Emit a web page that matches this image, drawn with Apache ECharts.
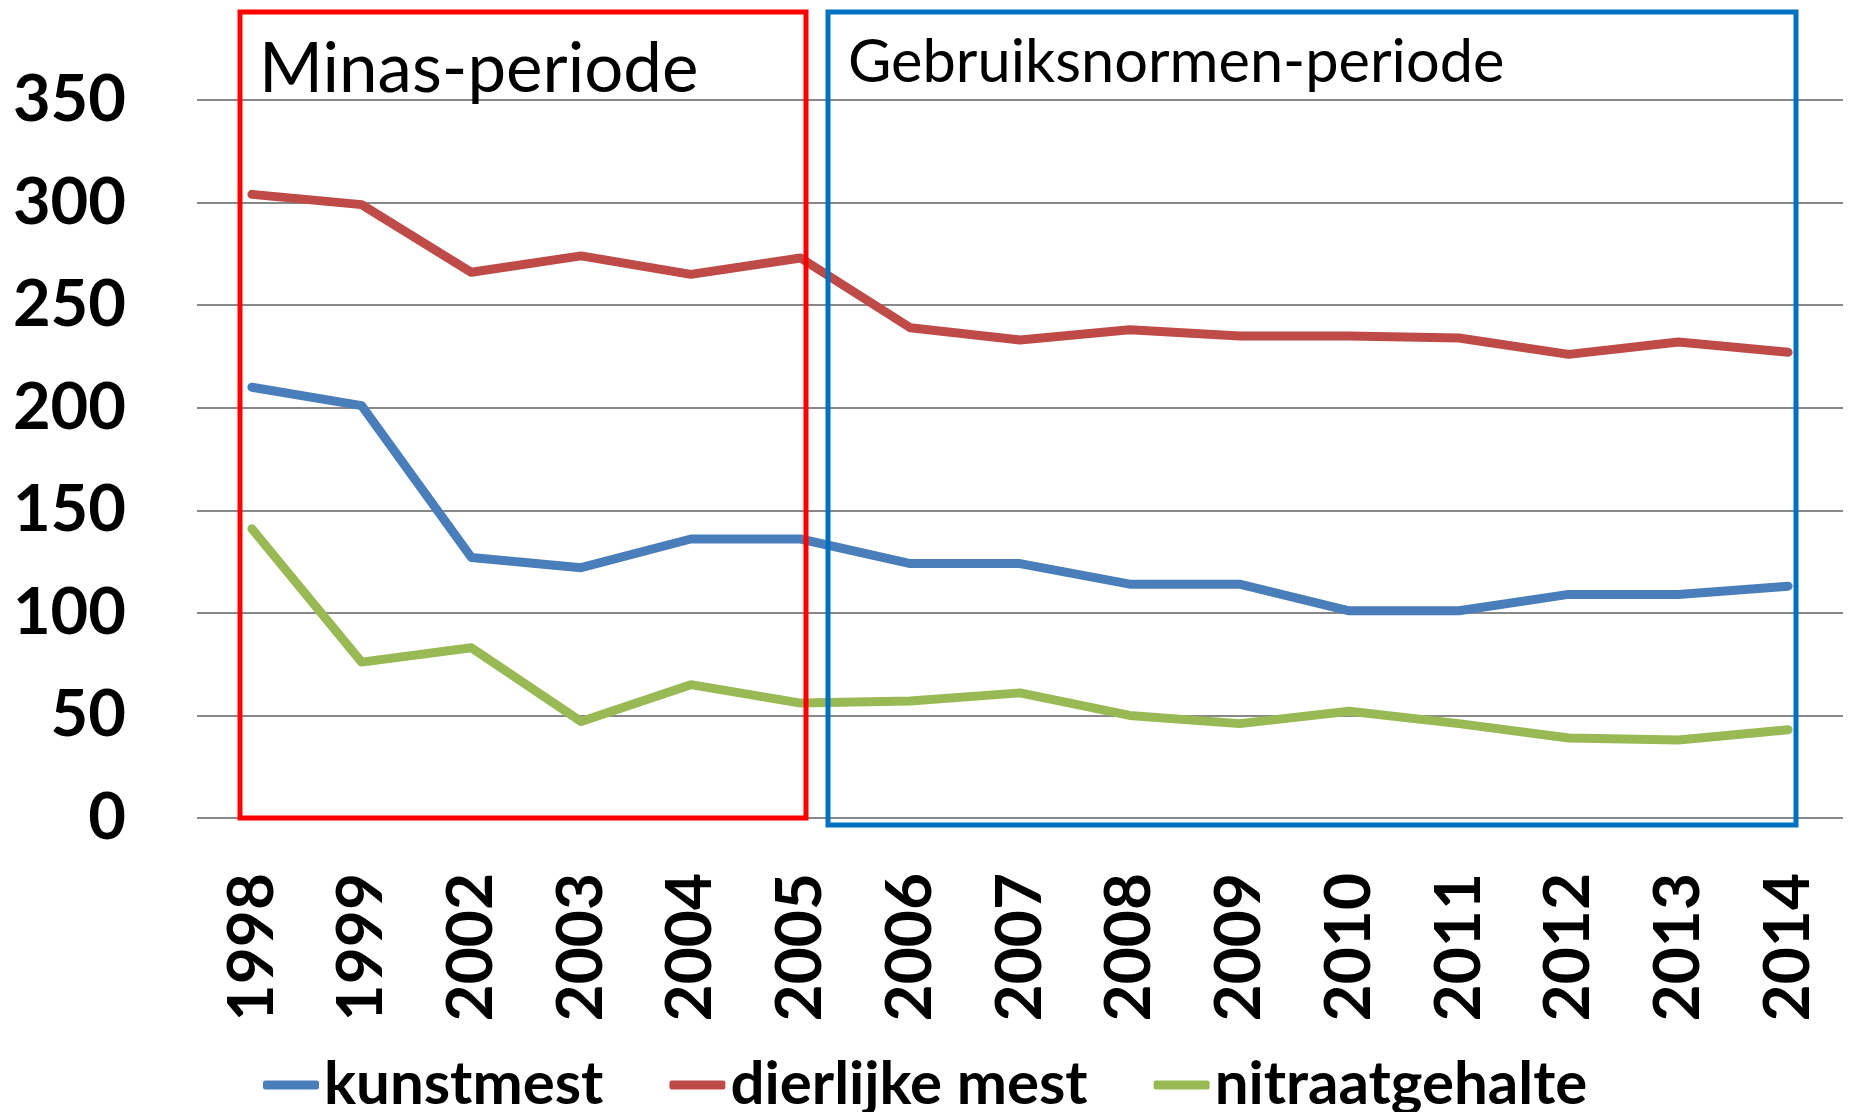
<!DOCTYPE html>
<html>
<head>
<meta charset="utf-8">
<script src="https://cdn.jsdelivr.net/npm/echarts@6/dist/echarts.min.js"></script>
<style>
  html, body { margin: 0; padding: 0; background: #fff; }
  #chart { width: 1850px; height: 1112px; }
</style>
</head>
<body>
<div id="chart"></div>
<script>
// categorieen (jaren) en reeksen
const years = ['1998', '1999', '2002', '2003', '2004', '2005', '2006', '2007', '2008', '2009', '2010', '2011', '2012', '2013', '2014']
const kunstmest = [210, 201, 127, 122, 136, 136, 124, 124, 114, 114, 101, 101, 109, 109, 113]
const dierlijkeMest = [304, 299, 266, 274, 265, 273, 239, 233, 238, 235, 235, 234, 226, 232, 227]
const nitraatgehalte = [141, 76, 83, 47, 65, 56, 57, 61, 50, 46, 52, 46, 39, 38, 43]

const FONT = 'Lato'

const chart = echarts.init(document.getElementById('chart'))

function lineSeries(name, data, color) {
  return {
    name,
    type: 'line',
    data,
    symbol: 'none',
    lineStyle: { width: 9, color, cap: 'round', join: 'round' },
    itemStyle: { color },
  }
}

chart.setOption({
  animation: false,
  backgroundColor: '#fff',
  grid: { left: 197, right: 7, top: 100, bottom: 294 },
  legend: {
    left: 258,
    top: 1050,
    itemWidth: 56,
    itemHeight: 9,
    itemGap: 66,
    icon: 'roundRect',
    textStyle: { fontFamily: FONT, fontWeight: 'bold', fontSize: 60, color: '#000' },
    data: ['kunstmest', 'dierlijke mest', 'nitraatgehalte'],
  },
  xAxis: {
    type: 'category',
    data: years,
    boundaryGap: true,
    axisLine: { show: false },
    axisTick: { show: false },
    axisLabel: {
      rotate: 90,
      margin: 55,
      color: '#000',
      fontFamily: FONT,
      fontWeight: 'bold',
      fontSize: 64,
    },
  },
  yAxis: {
    type: 'value',
    min: 0,
    max: 350,
    interval: 50,
    axisLine: { show: false },
    axisTick: { show: false },
    splitLine: { lineStyle: { color: '#888', width: 2 } },
    axisLabel: {
      margin: 71,
      color: '#000',
      fontFamily: FONT,
      fontWeight: 'bold',
      fontSize: 65,
    },
  },
  series: [
    lineSeries('kunstmest', kunstmest, '#4A7EBB'),
    lineSeries('dierlijke mest', dierlijkeMest, '#BE4B48'),
    lineSeries('nitraatgehalte', nitraatgehalte, '#98B954'),
  ],
  graphic: [
    {
      type: 'rect', z: 100,
      shape: { x: 240, y: 12, width: 566, height: 806 },
      style: { fill: 'none', stroke: '#FF0000', lineWidth: 5 },
    },
    {
      type: 'rect', z: 100,
      shape: { x: 828, y: 12, width: 968, height: 813 },
      style: { fill: 'none', stroke: '#0070C0', lineWidth: 5 },
    },
    {
      type: 'text', z: 101, left: 259, top: 35,
      style: { text: 'Minas-periode', font: '69px Lato', fill: '#000' },
    },
    {
      type: 'text', z: 101, left: 848, top: 33,
      style: { text: 'Gebruiksnormen-periode', font: '59.5px Lato', fill: '#000' },
    },
  ],
})
</script>
</body>
</html>
